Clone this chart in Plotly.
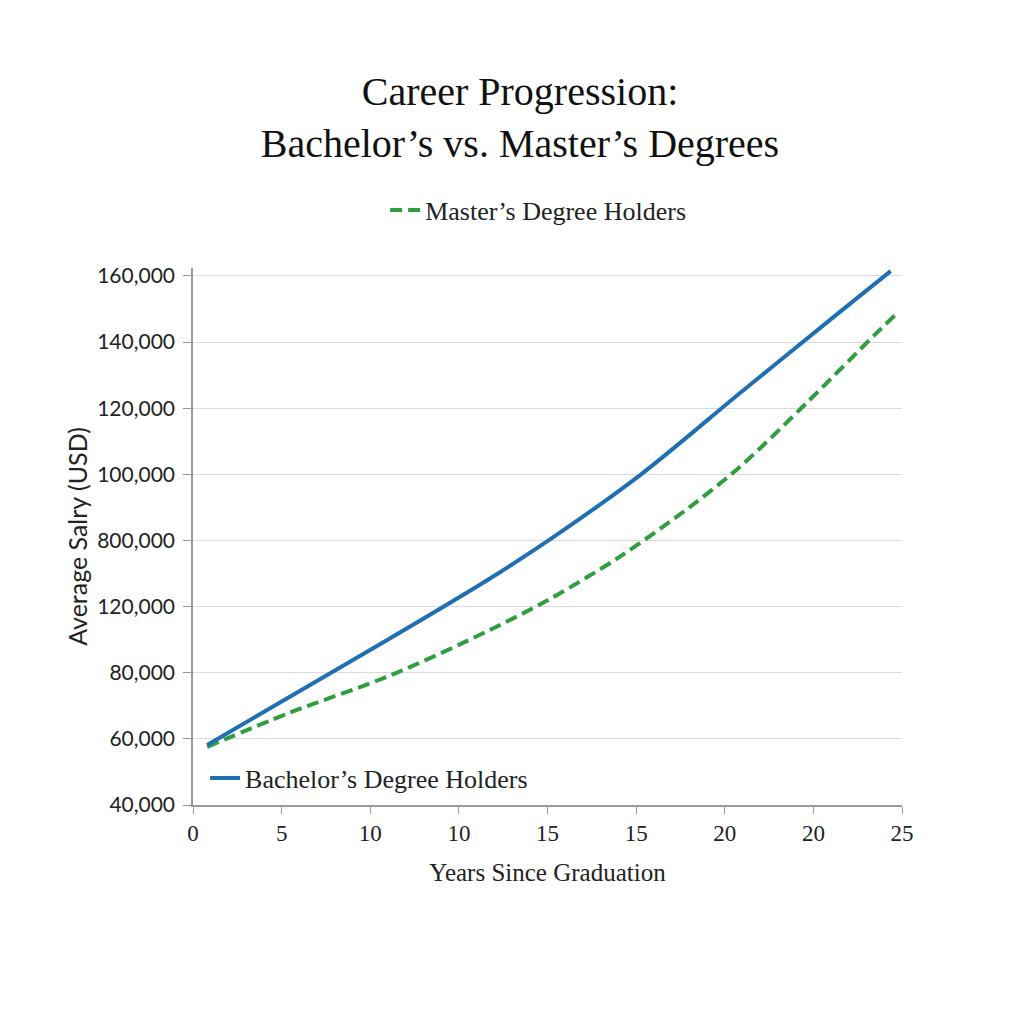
import numpy as np
import plotly.graph_objects as go

# Data
tahun_sarjana = [0.5, 3.4, 7.0, 10.5, 12.6, 15.8, 19.3, 22.8, 24.6]
gaji_sarjana = [53600, 64500, 78000, 91500, 100300, 115000, 133500, 151800, 161100]

tahun_magister = [0.5, 3.4, 7.0, 10.5, 12.6, 15.0, 17.5, 19.3, 21.7, 24.0, 24.8]
gaji_magister = [53200, 60900, 69500, 79800, 86800, 96100, 107500, 116800, 131600, 146400, 151400]

label_y = ['40,000', '60,000', '80,000', '120,000', '800,000',
           '100,000', '120,000', '140,000', '160,000']
label_x = ['0', '5', '10', '10', '15', '15', '20', '20', '25']

SERIF = 'Liberation Serif'
SANS = 'Lato'

fig = go.Figure()

fig.add_trace(go.Scatter(
    x=tahun_magister, y=gaji_magister,
    mode='lines', line=dict(color='#2e9e3e', width=4, dash='12px,6px',
                            shape='spline', smoothing=0.9),
    name='Master’s Degree Holders',
    legend='legend', showlegend=True
))

fig.add_trace(go.Scatter(
    x=tahun_sarjana, y=gaji_sarjana,
    mode='lines', line=dict(color='#1f6fb4', width=4,
                            shape='spline', smoothing=0.9),
    name='Bachelor’s Degree Holders',
    legend='legend2', showlegend=True
))

fig.update_layout(
    width=1024, height=1024,
    margin=dict(l=185, r=130, t=260, b=227),
    plot_bgcolor='white', paper_bgcolor='white',
    showlegend=True,
    title=dict(
        text='Career Progression:<br>Bachelor’s vs. Master’s Degrees',
        x=0.5, xanchor='center', y=0.905, yanchor='bottom',
        font=dict(family=SERIF, size=40, color='#111111')
    ),
    legend=dict(
        x=0.271, xanchor='left', y=1.108, yanchor='middle',
        bgcolor='rgba(0,0,0,0)',
        font=dict(family=SERIF, size=26, color='#222222')
    ),
    legend2=dict(
        x=0.017, xanchor='left', y=0.05, yanchor='middle',
        bgcolor='rgba(0,0,0,0)',
        font=dict(family=SERIF, size=26, color='#222222')
    ),
    xaxis=dict(
        range=[0, 25],
        tickvals=np.linspace(0, 25, 9), ticktext=label_x,
        showgrid=False, zeroline=False,
        showline=True, linecolor='#9a9a9a', linewidth=1.5,
        ticks='outside', ticklen=7, tickcolor='#9a9a9a',
        tickfont=dict(family=SERIF, size=23, color='#222222'),
        title=dict(text='Years Since Graduation', standoff=18,
                   font=dict(family=SERIF, size=25, color='#222222'))
    ),
    yaxis=dict(
        range=[40000, 161800],
        tickvals=np.linspace(40000, 160000, 9), ticktext=label_y,
        showgrid=True, gridcolor='#dadada', gridwidth=1, zeroline=False,
        showline=True, linecolor='#9a9a9a', linewidth=1.5,
        ticks='outside', ticklen=8, tickcolor='#9a9a9a',
        ticklabelstandoff=4,
        tickfont=dict(family=SANS, size=21, color='#222222'),
        title=dict(text='Average Salry (USD)', standoff=2,
                   font=dict(family=SANS, size=25, color='#222222'))
    )
)

fig.write_html("out.html")
